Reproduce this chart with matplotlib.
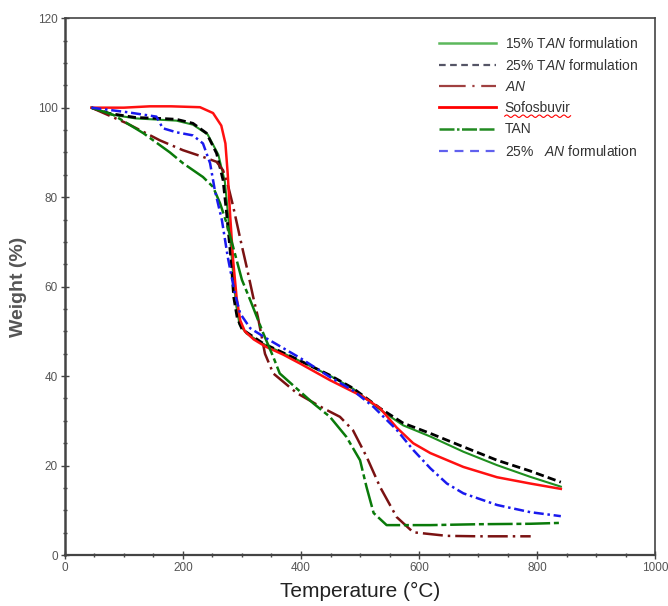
import numpy as np
import matplotlib
matplotlib.use("Agg")
import matplotlib.pyplot as plt
from matplotlib import font_manager
from matplotlib.lines import Line2D
from matplotlib.ticker import MultipleLocator

# pick a narrow sans face when it is there
names = {f.name for f in font_manager.fontManager.ttflist}
NARROW = "Liberation Sans Narrow" if "Liberation Sans Narrow" in names else "Liberation Sans"

matplotlib.rcParams['font.family'] = 'Liberation Sans'
matplotlib.rcParams['mathtext.fontset'] = 'custom'
matplotlib.rcParams['mathtext.it'] = 'Liberation Sans:italic'
matplotlib.rcParams['mathtext.rm'] = 'Liberation Sans'

# TGA traces, temperature in degC, weight in %
t_f15 = [45, 76, 120, 161, 189, 217, 242, 260, 271, 278, 285, 290, 296, 308, 336, 393, 449, 488, 534, 573, 619, 675, 732, 788, 840]
w_f15 = [100, 98.5, 97.6, 97.3, 97.1, 96.2, 94, 89.5, 83.5, 74, 63, 56, 51.5, 49.5, 47.2, 43.7, 40.1, 37.2, 32.5, 29, 26.5, 23.1, 20.1, 17.5, 15.3]

t_f25 = [45, 76, 120, 161, 189, 217, 240, 257, 268, 274, 282, 286, 292, 300, 319, 336, 393, 449, 488, 534, 573, 619, 675, 732, 788, 840]
w_f25 = [100, 98.7, 97.8, 97.6, 97.4, 96.5, 94.3, 89.8, 83.8, 76.4, 65.3, 57.7, 53, 50.5, 48.8, 47.3, 43.8, 40.2, 37.3, 32.8, 29.5, 27.2, 24.2, 21.2, 18.8, 16.3]

t_an = [45, 105, 161, 200, 234, 257, 268, 277, 285, 300, 308, 319, 327, 339, 353, 393, 438, 466, 488, 511, 534, 562, 590, 647, 700, 789]
w_an = [100, 96.5, 92.7, 90.5, 89, 87.9, 86, 82.3, 78, 69, 64.4, 57.7, 53.2, 45, 40.6, 36.2, 32.8, 30.9, 27.9, 22, 15.2, 8.5, 5.1, 4.3, 4.2, 4.2]

t_sof = [45, 100, 144, 180, 229, 251, 265, 272, 276, 280, 285, 291, 297, 305, 320, 340, 370, 400, 449, 505, 534, 562, 590, 619, 675, 732, 788, 840]
w_sof = [100, 100, 100.3, 100.3, 100.1, 98.8, 96, 92, 85, 76, 66, 57.5, 52.5, 50, 48.2, 46.6, 44.8, 42.7, 39.1, 35.4, 32.8, 28.5, 25, 22.8, 19.7, 17.4, 16, 14.8]

t_tan = [45, 82, 133, 178, 200, 234, 251, 263, 274, 285, 300, 314, 336, 353, 364, 421, 449, 477, 500, 511, 523, 545, 619, 700, 788, 840]
w_tan = [100, 98.4, 94.3, 90, 87.6, 84.5, 82.3, 78.6, 74.2, 68.9, 61.5, 57, 49.6, 44.3, 40.6, 33.9, 30.9, 26.4, 21.2, 15.2, 9.4, 6.7, 6.7, 6.9, 7.0, 7.2]

t_fan = [45, 105, 155, 166, 189, 217, 234, 246, 254, 266, 276, 288, 297, 314, 342, 398, 449, 488, 523, 562, 590, 619, 647, 675, 732, 788, 840]
w_fan = [100, 99, 98, 95.4, 94.5, 93.8, 92, 87.6, 81.6, 74.9, 66.6, 58.5, 54, 50.7, 48.4, 44.1, 39.8, 36.8, 33.1, 28, 23.5, 19.4, 16, 13.8, 11.2, 9.6, 8.7]

labels = [r"15% T$\it{AN}$ formulation",
          r"25% T$\it{AN}$ formulation",
          r"$\it{AN}$",
          "Sofosbuvir",
          "TAN",
          r"25%   $\it{AN}$ formulation"]


def main():
    fig = plt.figure(figsize=(6.68, 6.06), dpi=100)
    ax = fig.add_axes([0.097, 0.084, 0.884, 0.886])

    ax.plot(t_f15, w_f15, "-", color="#1f8f1f", lw=1.5)
    ax.plot(t_f25, w_f25, color="black", lw=2.0, dashes=(3, 1.5))
    ax.plot(t_an, w_an, color="#7a1212", lw=1.8, dashes=(8, 2, 1, 2))
    ax.plot(t_sof, w_sof, "-", color="#ff1010", lw=1.8)
    ax.plot(t_tan, w_tan, color="#0a7a0a", lw=1.8, dashes=(10, 1.5, 2, 1.5))
    ax.plot(t_fan, w_fan, color="#1a1aee", lw=1.8, dashes=(4, 1.5, 1, 1.5))

    # legend handles (drawn a bit lighter than the traces)
    handles = [Line2D([], [], color="#5cb85c", lw=1.8),
               Line2D([], [], color="#555566", lw=1.6, dashes=(3, 2)),
               Line2D([], [], color="#a04040", lw=1.6, dashes=(12, 3, 1, 3)),
               Line2D([], [], color="#ff0000", lw=2.0),
               Line2D([], [], color="#228b22", lw=1.8, dashes=(6, 1, 1, 1, 6, 1)),
               Line2D([], [], color="#6060ee", lw=1.6, dashes=(4, 3))]
    leg = ax.legend(handles, labels, loc="upper left", bbox_to_anchor=(0.625, 0.978),
                    frameon=False, fontsize=10, handlelength=4.1, handletextpad=0.6,
                    labelspacing=0.52, borderaxespad=0.0)
    for txt in leg.get_texts():
        txt.set_color("#333333")

    ax.set_xlim(0, 1000)
    ax.set_ylim(0, 120)
    ax.xaxis.set_major_locator(MultipleLocator(200))
    ax.xaxis.set_minor_locator(MultipleLocator(50))
    ax.yaxis.set_major_locator(MultipleLocator(20))
    ax.yaxis.set_minor_locator(MultipleLocator(5))
    ax.tick_params(which="major", direction="inout", length=6, width=1.0,
                   colors="#444444", labelsize=8.5, pad=2)
    ax.tick_params(which="minor", direction="inout", length=3, width=1.0, colors="#444444")
    for lab in ax.get_xticklabels() + ax.get_yticklabels():
        lab.set_family(NARROW)
        lab.set_color("#555555")

    for s in ax.spines.values():
        s.set_color("#444444")
        s.set_linewidth(1.2)
    ax.spines["left"].set_linewidth(1.8)
    ax.spines["bottom"].set_linewidth(1.6)

    ax.set_xlabel("Temperature (°C)", fontsize=15, family=NARROW, color="#222222", labelpad=6)
    ax.set_ylabel("Weight (%)", fontsize=14, fontweight="bold", color="#555555", labelpad=8)

    # red squiggle under the Sofosbuvir label
    fig.canvas.draw()
    bb = leg.get_texts()[3].get_window_extent()
    xs = np.linspace(bb.x0, bb.x1, 120)
    ys = bb.y0 - 1.0 + 1.2 * np.sin((xs - bb.x0) / 1.3)
    fig.add_artist(Line2D(xs, ys, transform=None, color="red", lw=0.8))

    fig.savefig("out.png", dpi=100)
    plt.close(fig)


if __name__ == '__main__':
    main()
